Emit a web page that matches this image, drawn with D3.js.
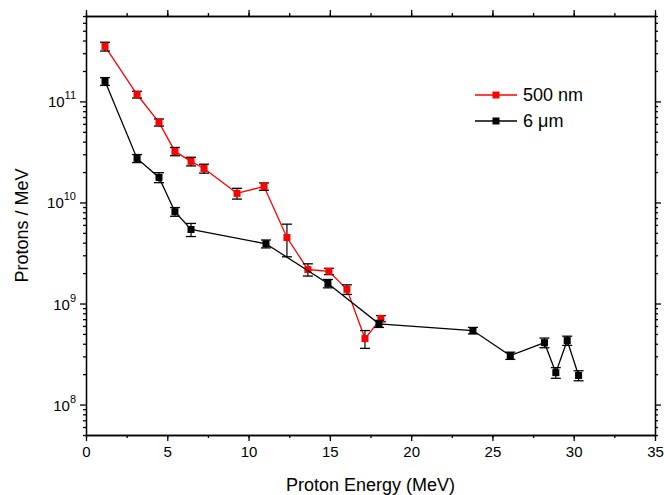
<!DOCTYPE html>
<html><head><meta charset="utf-8">
<script src="https://cdn.jsdelivr.net/npm/d3@7"></script>
<style>body{margin:0;background:#fff}svg{font-family:"Liberation Sans",Arial,sans-serif}</style>
</head><body><svg id="c" width="664" height="495"></svg>
<script>
const redX=[1.17,3.14,4.49,5.47,6.46,7.26,9.29,10.95,12.36,13.65,14.94,16.05,17.16,18.14];
const redY=[3.5e11,1.17e11,6.2e10,3.2e10,2.55e10,2.17e10,1.23e10,1.44e10,4.5e9,2.17e9,2.08e9,1.38e9,4.5e8,7.1e8];
const redE=[0.35e11,0.09e11,0.5e10,0.3e10,0.25e10,0.22e10,0.15e10,0.12e10,1.6e9,0.3e9,0.15e9,0.15e9,0.9e8,0.5e8];
const blkX=[1.17,3.14,4.49,5.47,6.46,11.07,14.88,18.02,23.8,26.1,28.2,28.9,29.6,30.3];
const blkY=[1.58e11,2.73e10,1.77e10,8.1e9,5.4e9,3.9e9,1.58e9,6.3e8,5.4e8,3.05e8,4.1e8,2.07e8,4.3e8,1.94e8];
const blkE=[0.14e11,0.25e10,0.2e10,0.8e9,0.8e9,0.35e9,0.15e9,0.5e8,0.4e8,0.25e8,0.45e8,0.25e8,0.45e8,0.22e8];
const xTicks=[0,5,10,15,20,25,30,35];
const yTicks=[1e8,1e9,1e10,1e11];
const series=[{name:"500 nm",col:"#ff0000",x:redX,y:redY,e:redE},{name:"6 μm",col:"#000000",x:blkX,y:blkY,e:blkE}];
const L=86,R=655,T=16,B=435;
const svg=d3.select("#c");
const x=d3.scaleLinear().domain([0,35]).range([L,R]);
const y=d3.scaleLog().domain([5e7,7e11]).range([B,T]);
const minors=[];for(let d=7;d<=11;d++)for(let k=2;k<=9;k++){const v=k*Math.pow(10,d);if(v>=5e7&&v<=7e11)minors.push(v);}
const xm=d3.range(0,35.1,2.5);
function ax(g,gen){g.call(gen);g.select(".domain").attr("stroke","#000").attr("stroke-width",1.3);g.selectAll("line").attr("stroke","#000").attr("stroke-width",1.3);}
ax(svg.append("g").attr("class","xb").attr("transform",`translate(0,${B})`),d3.axisBottom(x).tickValues(xTicks).tickSize(6).tickPadding(5).tickSizeOuter(0));
svg.selectAll(".xb text").attr("font-size",15).attr("font-family","Liberation Sans,Arial");
ax(svg.append("g").attr("transform",`translate(0,${B})`),d3.axisBottom(x).tickValues(xm).tickSize(3).tickFormat("").tickSizeOuter(0));
ax(svg.append("g").attr("transform",`translate(0,${T})`),d3.axisTop(x).tickValues(xTicks).tickSize(6).tickFormat("").tickSizeOuter(0));
ax(svg.append("g").attr("transform",`translate(0,${T})`),d3.axisTop(x).tickValues(xm).tickSize(3).tickFormat("").tickSizeOuter(0));
ax(svg.append("g").attr("transform",`translate(${L},0)`),d3.axisLeft(y).tickValues(yTicks).tickSize(6).tickFormat("").tickSizeOuter(0));
ax(svg.append("g").attr("transform",`translate(${L},0)`),d3.axisLeft(y).tickValues(minors).tickSize(3).tickFormat("").tickSizeOuter(0));
ax(svg.append("g").attr("transform",`translate(${R},0)`),d3.axisRight(y).tickValues(yTicks).tickSize(6).tickFormat("").tickSizeOuter(0));
ax(svg.append("g").attr("transform",`translate(${R},0)`),d3.axisRight(y).tickValues(minors).tickSize(3).tickFormat("").tickSizeOuter(0));
yTicks.forEach(v=>{const t=svg.append("text").attr("x",L-10).attr("y",y(v)+6).attr("text-anchor","end").attr("font-size",15);
 t.append("tspan").text("10");t.append("tspan").attr("dy",-8).attr("font-size",11).text(Math.round(Math.log10(v)));});
svg.append("text").attr("x",(L+R)/2).attr("y",491).attr("text-anchor","middle").attr("font-size",18).text("Proton Energy (MeV)");
svg.append("text").attr("transform",`translate(28,${(T+B)/2}) rotate(-90)`).attr("text-anchor","middle").attr("font-size",18).text("Protons / MeV");
series.forEach(s=>{
 const pts=s.x.map((v,i)=>[v,s.y[i],s.e[i]]);
 svg.append("path").attr("d",d3.line().x(d=>x(d[0])).y(d=>y(d[1]))(pts)).attr("fill","none").attr("stroke",s.col).attr("stroke-width",1.3);
 pts.forEach(d=>{const cx=x(d[0]),y1=y(d[1]+d[2]),y2=y(d[1]-d[2]);
  svg.append("line").attr("x1",cx).attr("x2",cx).attr("y1",y1).attr("y2",y2).attr("stroke","#000").attr("stroke-width",1.2);
  [y1,y2].forEach(yy=>svg.append("line").attr("x1",cx-5).attr("x2",cx+5).attr("y1",yy).attr("y2",yy).attr("stroke","#000").attr("stroke-width",1.3));
  svg.append("rect").attr("x",cx-3.5).attr("y",y(d[1])-3.5).attr("width",7).attr("height",7).attr("fill",s.col);});
});
series.forEach((s,i)=>{const ly=95+i*26;
 svg.append("line").attr("x1",475).attr("x2",517).attr("y1",ly).attr("y2",ly).attr("stroke",s.col).attr("stroke-width",1.3);
 svg.append("rect").attr("x",492.5).attr("y",ly-3.5).attr("width",7).attr("height",7).attr("fill",s.col);
 svg.append("text").attr("x",523).attr("y",ly+6).attr("font-size",18).text(s.name);});
</script></body></html>
